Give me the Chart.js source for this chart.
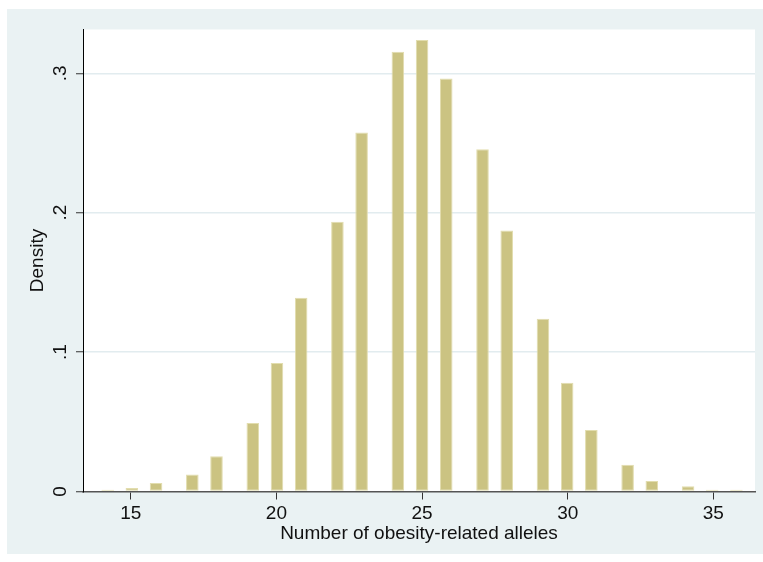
<!DOCTYPE html>
<html>
<head>
<meta charset="utf-8">
<script src="https://cdn.jsdelivr.net/npm/chart.js@4/dist/chart.umd.min.js"></script>
<style>
  html, body { margin: 0; padding: 0; background: #ffffff; }
  #wrap { width: 763px; height: 562px; position: relative; }
</style>
</head>
<body>
<div id="wrap"><canvas id="chart"></canvas></div>
<script>
// Observed allele counts, one histogram bar each
const alleles = [14, 15, 16, 17, 18, 19, 20, 21, 22, 23, 24, 25, 26, 27, 28, 29, 30, 31, 32, 33, 34, 35, 36];
// Density for each allele count
const density = [0.0013, 0.0026, 0.0061, 0.0122, 0.0252, 0.0492, 0.0922, 0.1390, 0.1935, 0.2575, 0.3155, 0.3238,
                 0.2962, 0.2455, 0.1872, 0.1240, 0.0780, 0.0442, 0.0191, 0.0075, 0.0037, 0.0013, 0.0013];
// Axis ticks and their labels
const xTicks = [15, 20, 25, 30, 35];
const yTicks = [0, 0.1, 0.2, 0.3];
const yTickLabels = ['0', '.1', '.2', '.3'];
const xTitle = 'Number of obesity-related alleles';
const yTitle = 'Density';

// Equal-width histogram bins spanning the allele range
const binCount = 53;
const lo = Math.min(...alleles);
const hi = Math.max(...alleles);
const binWidth = (hi - lo) / binCount;
function binCenter(v) {
  const k = Math.min(binCount - 1, Math.floor((v - lo) / binWidth + 1e-9));
  return lo + (k + 0.5) * binWidth;
}
const points = alleles.map((a, i) => ({ x: binCenter(a), y: density[i] }));

const FONT = "'Liberation Sans', Arial, sans-serif";
const REGION = 'rgb(234,242,243)';

// Graph region (light bluish gray) and white plot region
const backdrop = {
  id: 'backdrop',
  beforeDraw(chart) {
    const { ctx, chartArea: a, width, height } = chart;
    ctx.save();
    ctx.fillStyle = '#ffffff';
    ctx.fillRect(0, 0, width, height);
    ctx.fillStyle = REGION;
    ctx.fillRect(7, 9, width - 7, height - 9 - 8);
    ctx.fillStyle = '#ffffff';
    ctx.fillRect(a.left, a.top, a.right - a.left, a.bottom - a.top);
    ctx.restore();
  }
};

new Chart(document.getElementById('chart'), {
  type: 'bar',
  data: {
    datasets: [{
      data: points,
      backgroundColor: '#cbc382',
      borderColor: '#e2ddae',
      borderWidth: 1,
      borderSkipped: false,
      barPercentage: 1,
      categoryPercentage: 0.52
    }]
  },
  options: {
    responsive: true,
    maintainAspectRatio: false,
    animation: false,
    layout: { padding: { left: 0, top: 29.5, right: 8, bottom: 0 } },
    plugins: { legend: { display: false }, tooltip: { enabled: false } },
    scales: {
      x: {
        type: 'linear',
        offset: false,
        min: 13.36,
        max: 36.43,
        afterBuildTicks: s => { s.ticks = xTicks.map(v => ({ value: v })); },
        afterFit: s => { s.height = 70.5; },
        grid: { offset: false, drawOnChartArea: false, drawTicks: true, tickLength: 8, tickColor: '#333333', lineWidth: 1 },
        border: { display: true, color: '#555555', width: 1.5 },
        ticks: { color: '#111111', font: { family: FONT, size: 19 }, padding: 3, maxRotation: 0, autoSkip: false,
                 callback: v => String(v) },
        title: { display: true, text: xTitle, color: '#111111', font: { family: FONT, size: 19 },
                 padding: { top: 0, bottom: 17 } }
      },
      y: {
        type: 'linear',
        min: 0,
        max: 0.3314,
        afterBuildTicks: s => { s.ticks = yTicks.map(v => ({ value: v })); },
        afterFit: s => { s.width = 83; },
        grid: {
          color: c => (c.tick && c.tick.value === 0) ? 'rgba(0,0,0,0)' : 'rgb(226,236,239)',
          lineWidth: 1.5,
          drawTicks: true,
          tickLength: 7,
          tickColor: '#333333',
          tickWidth: 1
        },
        border: { display: true, color: '#000000', width: 1 },
        ticks: {
          color: '#111111', font: { family: FONT, size: 19 }, padding: 7,
          minRotation: 90, maxRotation: 90, crossAlign: 'center',
          callback: (v, i) => yTickLabels[i]
        },
        title: { display: true, text: yTitle, color: '#111111', font: { family: FONT, size: 19 },
                 padding: { top: 26, bottom: 0 } }
      }
    }
  },
  plugins: [backdrop]
});
</script>
</body>
</html>
